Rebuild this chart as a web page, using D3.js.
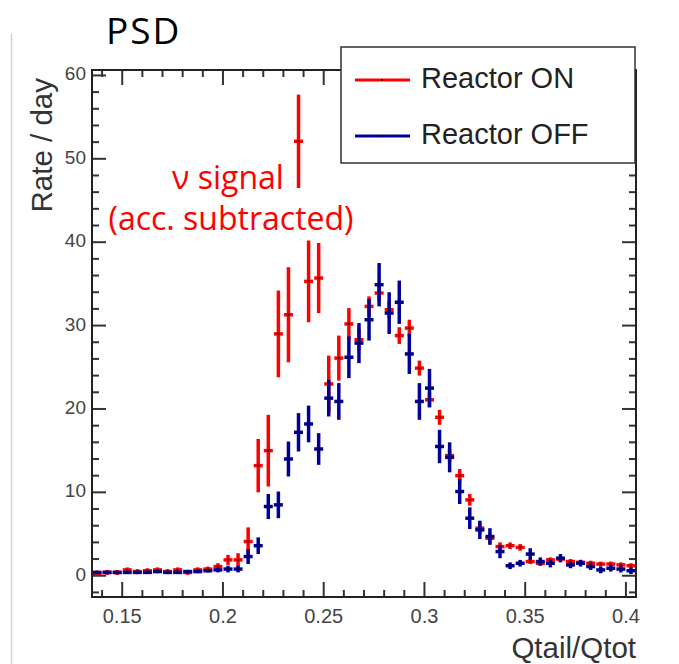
<!DOCTYPE html>
<html>
<head>
<meta charset="utf-8">
<script src="https://cdn.jsdelivr.net/npm/d3@7"></script>
<style>
  body { margin: 0; background: #fff; }
  svg text { font-family: "Liberation Sans", Arial, sans-serif; }
</style>
</head>
<body>
<div id="chart"></div>
<script>
// bin centers of Qtail/Qtot (bin width 0.005)
const binCenters = [0.1375, 0.1425, 0.1475, 0.1525, 0.1575, 0.1625, 0.1675, 0.1725, 0.1775, 0.1825,
  0.1875, 0.1925, 0.1975, 0.2025, 0.2075, 0.2125, 0.2175, 0.2225, 0.2275, 0.2325,
  0.2375, 0.2425, 0.2475, 0.2525, 0.2575, 0.2625, 0.2675, 0.2725, 0.2775, 0.2825,
  0.2875, 0.2925, 0.2975, 0.3025, 0.3075, 0.3125, 0.3175, 0.3225, 0.3275, 0.3325,
  0.3375, 0.3425, 0.3475, 0.3525, 0.3575, 0.3625, 0.3675, 0.3725, 0.3775, 0.3825,
  0.3875, 0.3925, 0.3975, 0.4025];

const onRate = [0.3, 0.4, 0.4, 0.7, 0.5, 0.6, 0.7, 0.5, 0.7, 0.4,
  0.7, 0.8, 1.1, 1.9, 1.9, 4.1, 13.2, 15.0, 29.0, 31.3,
  52.1, 35.3, 35.7, 23.0, 26.1, 30.2, 28.3, 32.3, 33.9, 31.9,
  28.8, 29.7, 24.9, 21.1, 19.0, 14.4, 12.0, 9.1, 5.7, 4.5,
  3.5, 3.6, 3.4, 1.7, 1.5, 1.9, 2.0, 1.7, 1.6, 1.5,
  1.4, 1.4, 1.3, 1.2];
const onErr = [0.3, 0.3, 0.3, 0.3, 0.3, 0.3, 0.3, 0.3, 0.3, 0.3,
  0.3, 0.3, 0.4, 0.6, 0.8, 1.7, 3.2, 4.3, 5.2, 5.7,
  5.6, 4.9, 4.2, 3.4, 2.7, 1.9, 1.3, 1.2, 1.0, 1.0,
  1.0, 1.0, 0.9, 0.9, 0.9, 0.8, 0.8, 0.7, 0.6, 0.6,
  0.5, 0.4, 0.4, 0.3, 0.3, 0.3, 0.3, 0.3, 0.3, 0.3,
  0.3, 0.3, 0.3, 0.3];

const offRate = [0.4, 0.4, 0.4, 0.4, 0.4, 0.4, 0.5, 0.4, 0.4, 0.5,
  0.5, 0.6, 0.7, 0.8, 0.8, 2.3, 3.6, 8.3, 8.5, 14.0,
  17.2, 18.2, 15.2, 21.3, 20.9, 26.2, 27.9, 30.7, 34.9, 31.5,
  32.8, 26.6, 20.9, 22.5, 15.5, 14.2, 10.1, 6.9, 5.5, 4.7,
  2.9, 1.2, 1.5, 2.6, 1.7, 1.5, 2.1, 1.3, 1.5, 1.1,
  0.7, 0.9, 0.8, 0.6];
const offErr = [0.2, 0.2, 0.2, 0.2, 0.2, 0.2, 0.2, 0.2, 0.2, 0.2,
  0.2, 0.2, 0.3, 0.4, 0.4, 0.9, 1.0, 1.5, 1.6, 2.1,
  2.3, 2.2, 1.9, 2.2, 2.2, 2.5, 2.4, 2.5, 2.6, 2.5,
  2.6, 2.4, 2.2, 2.3, 2.0, 1.8, 1.5, 1.3, 1.1, 1.0,
  0.8, 0.4, 0.4, 0.7, 0.5, 0.5, 0.5, 0.4, 0.4, 0.4,
  0.4, 0.4, 0.4, 0.4];

const xMajorTicks = [0.15, 0.2, 0.25, 0.3, 0.35, 0.4];
const xTickLabels = ["0.15", "0.2", "0.25", "0.3", "0.35", "0.4"];
const yMajorTicks = [0, 10, 20, 30, 40, 50, 60];
const seriesNames = ["Reactor ON", "Reactor OFF"];
const seriesColors = ["#ff0000", "#000099"];

const W = 679, H = 664;
const frame = { left: 92, right: 636, top: 70, bottom: 597 };

const svg = d3.select("#chart").append("svg")
  .attr("width", W).attr("height", H);

// slide border line on the left
svg.append("line")
  .attr("x1", 11.5).attr("x2", 11.5).attr("y1", 34).attr("y2", H)
  .attr("stroke", "#d0d0d0").attr("stroke-width", 1.5);

const x = d3.scaleLinear().domain([0.135, 0.405]).range([frame.left, frame.right]);
const y = d3.scaleLinear().domain([-2.55, 60.65]).range([frame.bottom, frame.top]);

// ticks (inward, on all four sides)
const xMinor = d3.range(0.14, 0.4001, 0.01).filter(v => !xMajorTicks.some(m => Math.abs(m - v) < 1e-6));
const yMinor = d3.range(-2, 60.01, 2).filter(v => v % 10 !== 0);
const tickG = svg.append("g").attr("stroke", "#333").attr("stroke-width", 2);

function xTicks(vals, len) {
  vals.forEach(v => {
    tickG.append("line").attr("x1", x(v)).attr("x2", x(v))
      .attr("y1", frame.bottom).attr("y2", frame.bottom - len);
    tickG.append("line").attr("x1", x(v)).attr("x2", x(v))
      .attr("y1", frame.top).attr("y2", frame.top + len);
  });
}
function yTicks(vals, len) {
  vals.forEach(v => {
    tickG.append("line").attr("y1", y(v)).attr("y2", y(v))
      .attr("x1", frame.left).attr("x2", frame.left + len);
    tickG.append("line").attr("y1", y(v)).attr("y2", y(v))
      .attr("x1", frame.right).attr("x2", frame.right - len);
  });
}
xTicks(xMajorTicks, 15);
xTicks(xMinor, 7);
yTicks(yMajorTicks, 14);
yTicks(yMinor, 7);

// tick labels
svg.append("g").selectAll("text").data(xMajorTicks).join("text")
  .attr("x", d => x(d)).attr("y", 618)
  .attr("text-anchor", "middle").attr("dominant-baseline", "middle")
  .attr("font-size", 20).attr("fill", "#444")
  .text((d, i) => xTickLabels[i]);

svg.append("g").selectAll("text").data(yMajorTicks).join("text")
  .attr("x", 86).attr("y", d => y(d))
  .attr("text-anchor", "end").attr("dominant-baseline", "middle")
  .attr("font-size", 19).attr("fill", "#444")
  .text(d => d);

// axis titles
svg.append("text")
  .attr("x", 636).attr("y", 658)
  .attr("text-anchor", "end").attr("font-size", 29.5).attr("fill", "#333")
  .text("Qtail/Qtot");

svg.append("text")
  .attr("transform", "translate(52,78) rotate(-90)")
  .attr("text-anchor", "end").attr("font-size", 29.5).attr("fill", "#333")
  .text("Rate / day");

// data points with error bars
const halfW = 4.5;
function drawSeries(rate, err, color) {
  const g = svg.append("g");
  const pts = binCenters.map((c, i) => ({ c: c, v: rate[i], e: err[i] }));
  g.selectAll("line.v").data(pts).join("line")
    .attr("class", "v")
    .attr("x1", d => x(d.c)).attr("x2", d => x(d.c))
    .attr("y1", d => y(d.v - d.e)).attr("y2", d => y(d.v + d.e))
    .attr("stroke", color).attr("stroke-width", 3.5);
  g.selectAll("line.h").data(pts).join("line")
    .attr("class", "h")
    .attr("x1", d => x(d.c) - halfW).attr("x2", d => x(d.c) + halfW)
    .attr("y1", d => y(d.v)).attr("y2", d => y(d.v))
    .attr("stroke", color).attr("stroke-width", 3.5);
  g.selectAll("rect.m").data(pts).join("rect")
    .attr("class", "m")
    .attr("x", d => x(d.c) - 1).attr("y", d => y(d.v) - 1)
    .attr("width", 2).attr("height", 2)
    .attr("fill", "#000").attr("opacity", 0.7);
}
drawSeries(onRate, onErr, seriesColors[0]);
drawSeries(offRate, offErr, seriesColors[1]);

// frame
svg.append("rect")
  .attr("x", frame.left).attr("y", frame.top)
  .attr("width", frame.right - frame.left).attr("height", frame.bottom - frame.top)
  .attr("fill", "none").attr("stroke", "#222").attr("stroke-width", 2);

// legend
const leg = svg.append("g");
leg.append("rect")
  .attr("x", 341).attr("y", 47).attr("width", 294).attr("height", 116)
  .attr("fill", "#fff").attr("stroke", "#333").attr("stroke-width", 1.5);
seriesNames.forEach((name, i) => {
  const ly = 80 + i * 56;
  leg.append("line").attr("x1", 355).attr("x2", 410).attr("y1", ly).attr("y2", ly)
    .attr("stroke", seriesColors[i]).attr("stroke-width", 3);
  leg.append("rect").attr("x", 381).attr("y", ly - 1).attr("width", 2).attr("height", 2)
    .attr("fill", "#000").attr("opacity", 0.7);
  leg.append("text").attr("x", 421).attr("y", ly)
    .attr("dominant-baseline", "middle").attr("font-size", 29).attr("fill", "#222")
    .text(name);
});

// slide annotations
svg.append("text")
  .attr("x", 106).attr("y", 44)
  .style("font-family", "'Open Sans', 'Noto Sans', sans-serif")
  .style("letter-spacing", "2px")
  .attr("font-size", 37).attr("fill", "#000")
  .text("PSD");

svg.append("text")
  .attr("x", 228).attr("y", 189).attr("text-anchor", "middle")
  .style("font-family", "'Open Sans', 'Noto Sans', sans-serif")
  .attr("font-size", 32).attr("fill", "#ff0000")
  .text("\u03bd signal");
svg.append("text")
  .attr("x", 231).attr("y", 230).attr("text-anchor", "middle")
  .style("font-family", "'Open Sans', 'Noto Sans', sans-serif")
  .attr("font-size", 32).attr("fill", "#ff0000")
  .text("(acc. subtracted)");
</script>
</body>
</html>
